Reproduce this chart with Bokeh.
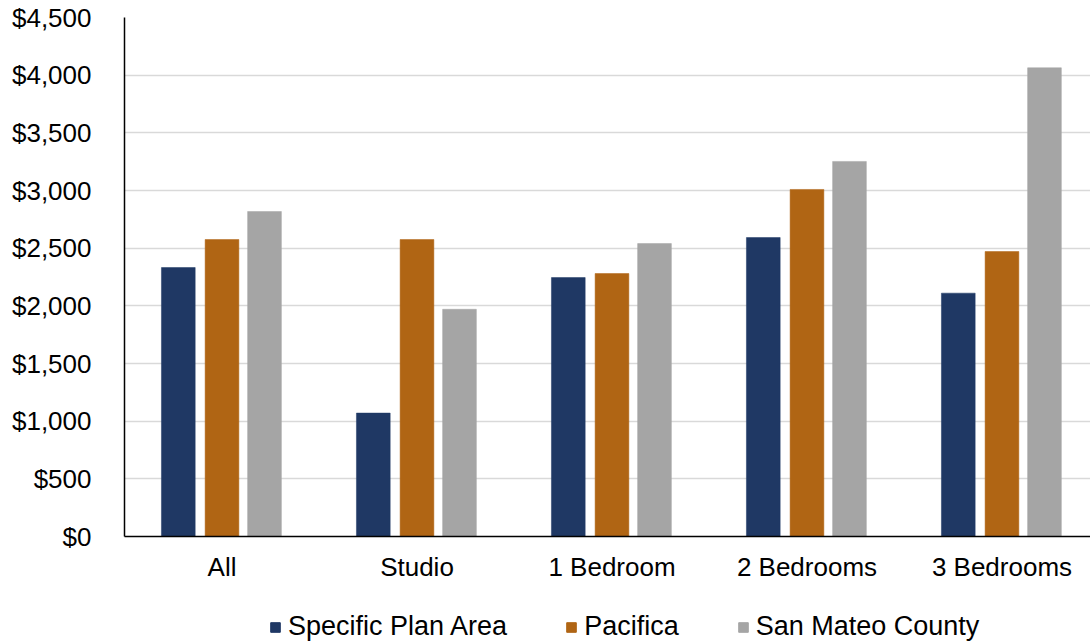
from bokeh.plotting import figure
from bokeh.layouts import column
from bokeh.models import Range1d, FixedTicker, Legend, LegendItem, NumeralTickFormatter
from bokeh.embed import file_html
from bokeh.resources import INLINE

categories = ["All", "Studio", "1 Bedroom", "2 Bedrooms", "3 Bedrooms"]
series_names = ["Specific Plan Area", "Pacifica", "San Mateo County"]
specific_plan = [2332, 1070, 2245, 2592, 2110]
pacifica = [2575, 2575, 2280, 3009, 2471]
san_mateo = [2818, 1970, 2540, 3252, 4064]
colors = ["#1F3864", "#B06514", "#A5A5A5"]
y_ticks = [0, 500, 1000, 1500, 2000, 2500, 3000, 3500, 4000, 4500]

FONT = "Liberation Sans"

p = figure(width=1090, height=600, output_backend="svg", toolbar_location=None,
           x_range=Range1d(0, 4.954), y_range=Range1d(0, 4500),
           min_border_left=124, min_border_right=0, min_border_top=17,
           min_border_bottom=64)
p.outline_line_color = None
p.xgrid.grid_line_color = None
p.ygrid.grid_line_color = "#D9D9D9"
p.ygrid.grid_line_width = 1.5

centers = [i + 0.5 for i in range(len(categories))]
offsets = [-0.224, 0.0, 0.218]
width = 0.173
for vals, off, col in zip([specific_plan, pacifica, san_mateo], offsets, colors):
    p.vbar(x=[c + off for c in centers], top=vals, width=width, bottom=0,
           fill_color=col, line_color=col, line_width=0.5)

p.yaxis.ticker = FixedTicker(ticks=y_ticks)
p.yaxis.formatter = NumeralTickFormatter(format="$0,0")
p.yaxis.major_tick_line_color = None
p.yaxis.minor_tick_line_color = None
p.yaxis.axis_line_color = "black"
p.yaxis.axis_line_width = 1.5
p.yaxis.major_label_standoff = 27
p.yaxis.major_label_text_font = FONT
p.yaxis.major_label_text_font_size = "26px"
p.yaxis.major_label_text_color = "black"

p.xaxis.ticker = FixedTicker(ticks=centers)
p.xaxis.major_label_overrides = {c: n for c, n in zip(centers, categories)}
p.xaxis.major_tick_line_color = None
p.xaxis.minor_tick_line_color = None
p.xaxis.axis_line_color = "black"
p.xaxis.axis_line_width = 1.5
p.xaxis.major_label_standoff = 9
p.xaxis.major_label_text_font = FONT
p.xaxis.major_label_text_font_size = "26px"
p.xaxis.major_label_text_color = "black"

# legend strip
lg = figure(width=1090, height=43, output_backend="svg", toolbar_location=None,
            x_range=Range1d(0, 1), y_range=Range1d(0, 1),
            x_axis_location=None, y_axis_location=None,
            min_border_left=0, min_border_right=0, min_border_top=0, min_border_bottom=0)
lg.outline_line_color = None
lg.grid.visible = False
dummies = [lg.vbar(x=[-5], top=[0], width=0.1, fill_color=col, line_color=col) for col in colors]
legend = Legend(items=[LegendItem(label=n, renderers=[r]) for n, r in zip(series_names, dummies)],
                orientation="horizontal", location=(145, 1))
legend.label_text_font = FONT
legend.label_text_font_size = "27px"
legend.label_text_color = "black"
legend.glyph_width = 12
legend.glyph_height = 12
legend.label_standoff = 7
legend.spacing = 58
legend.padding = 1
legend.margin = 0
legend.border_line_color = None
legend.background_fill_alpha = 0
lg.add_layout(legend, "center")

layout = column(p, lg, spacing=0)
open("out.html", "w").write(file_html(layout, INLINE))
